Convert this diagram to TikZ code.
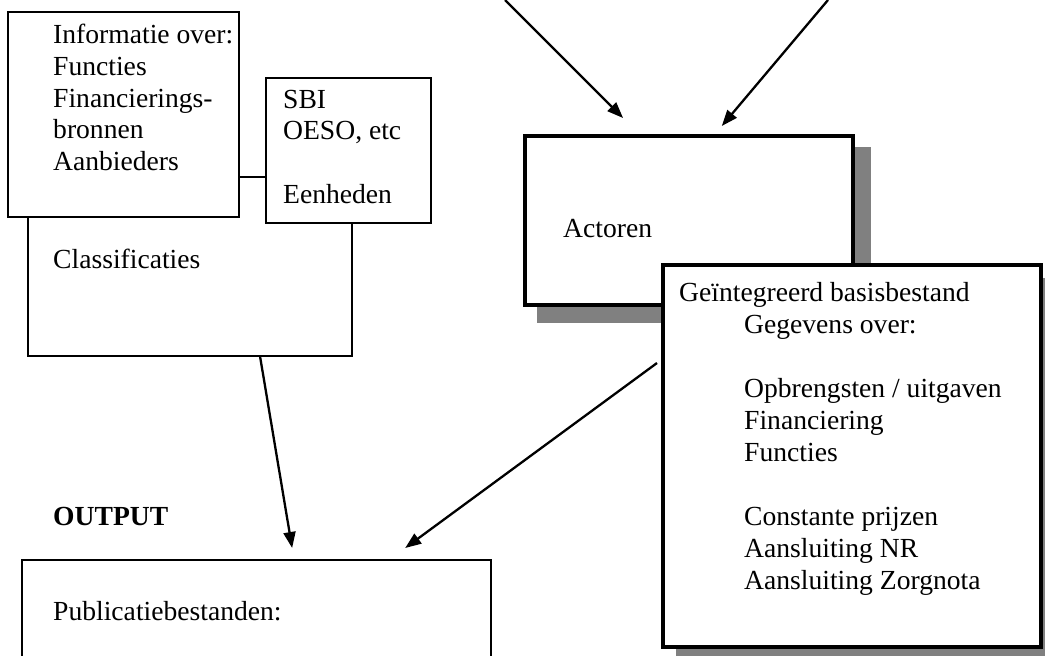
\documentclass[tikz,border=0pt]{standalone}
\usepackage{fontspec}
\setmainfont{Liberation Serif}
\usetikzlibrary{arrows.meta,calc}

\begin{document}
\begin{tikzpicture}[x=1pt,y=-1pt,
  box/.style={draw,fill=white,line width=1.4pt,outer sep=0pt,inner sep=0pt,anchor=north west},
  boldbox/.style={box,line width=4.3pt},
  shade/.style={fill=black!50,outer sep=0pt,inner sep=0pt,anchor=north west},
  txt/.style={anchor=base west,inner sep=0pt,font=\fontsize{27.6}{32}\selectfont},
  arr/.style={line width=2.3pt,-{Triangle[length=16pt,width=12pt]}}]
  \useasboundingbox (0,0) rectangle (1045,656);
  \clip (0,0) rectangle (1045,656);

  % classificaties, with the two boxes on top of it
  \node[box,minimum width=324pt,minimum height=179pt] (class) at (28,177) {};
  \node[box,minimum width=231pt,minimum height=205pt] (info) at (8,12) {};
  \node[box,minimum width=165pt,minimum height=145pt] (sbi) at (266,78) {};
  \foreach \y/\t [count=\i] in {43/Informatie over:,75/Functies,107/Financierings-,138/bronnen,170/Aanbieders}
    \node[txt] (info\i) at (53,\y) {\t};
  \foreach \y/\t [count=\i] in {108/SBI,139/{OESO, etc},203/Eenheden}
    \node[txt] (sbi\i) at (283,\y) {\t};
  \node[txt] (classtxt) at (53,268) {Classificaties};

  % actoren
  \node[shade,minimum width=334pt,minimum height=176pt] (actshade) at (537,147) {};
  \node[boldbox,minimum width=328pt,minimum height=169pt] (act) at (525,136) {};
  \node[txt] (acttxt) at (563,237) {Actoren};

  % basisbestand
  \node[shade,minimum width=382pt,minimum height=386pt] (geintshade) at (676,278) {};
  \node[boldbox,minimum width=378pt,minimum height=382pt] (geint) at (663,265) {};
  \node[txt] (geinttxt) at (679,301) {Geïntegreerd basisbestand};
  \foreach \y/\t [count=\i] in {333/Gegevens over:,397/{Opbrengsten / uitgaven},429/Financiering,461/Functies,
      525/Constante prijzen,557/Aansluiting NR,589/Aansluiting Zorgnota}
    \node[txt] (geint\i) at (744,\y) {\t};

  % output
  \node[txt,font=\fontsize{27.6}{32}\selectfont\bfseries] (outtxt) at (53,525) {OUTPUT};
  \node[box,minimum width=469pt,minimum height=200pt] (publ) at (22,560) {};
  \node[txt] (publtxt) at (53,620) {Publicatiebestanden:};

  % arrows
  \coordinate (top1) at (505,0);
  \coordinate (top2) at (828,0);
  \draw[arr] (top1) -- ($(act.north west)!0.299!(act.north east)+(0,-18)$);
  \draw[arr] (top2) -- ($(act.north west)!0.60!(act.north east)+(0,-10)$);
  \draw[arr] ($(class.south west)!0.716!(class.south east)$) -- ($(publ.north west)!0.576!(publ.north east)+(0,-12)$);
  \draw[arr] ($(geint.north west)+(-6,98)$) -- ($(publ.north west)!0.817!(publ.north east)+(0,-12)$);
\end{tikzpicture}
\end{document}
